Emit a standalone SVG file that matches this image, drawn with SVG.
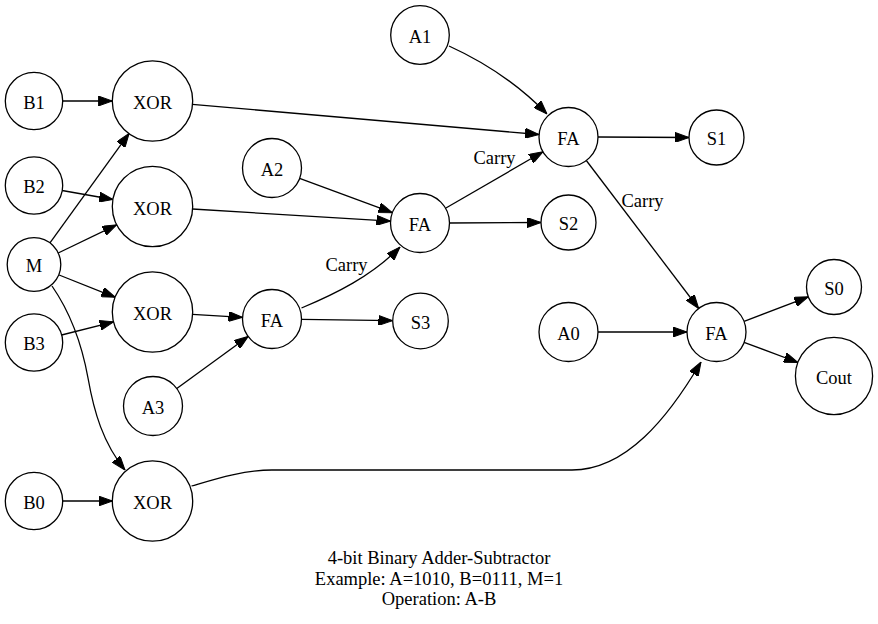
<svg xmlns="http://www.w3.org/2000/svg" width="878" height="624" viewBox="0 0 878 624">
<defs>
<marker id="arr" markerWidth="14" markerHeight="10" refX="14" refY="5" orient="auto" markerUnits="userSpaceOnUse">
<path d="M0,0 L14,5 L0,10 z" fill="#000" stroke="#000" stroke-width="1"/>
</marker>
<style>
.n circle{fill:#fff;stroke:#000;stroke-width:1.3}
.n text,.lbl{font-family:"Liberation Serif","Times New Roman",serif;font-size:18.5px;fill:#000;text-anchor:middle}
#edges path{fill:none;stroke:#000;stroke-width:1.3;marker-end:url(#arr)}
.title{font-family:"Liberation Serif","Times New Roman",serif;font-size:18.5px;fill:#000;text-anchor:middle}
</style>
</defs>
<rect width="878" height="624" fill="#fff"/>
<g id="edges">
<path d="M63,101 L112.3,101"/>
<path d="M49.8,243.1 L129.1,133.4"/>
<path d="M62.1,190.5 L113.1,199.5"/>
<path d="M58.2,253 L116.6,224.8"/>
<path d="M59.1,275 L115.3,297.3"/>
<path d="M61.6,335 L113.7,321.8"/>
<path d="M52,286 C70,312 82,345 88,378 C94,412 103,443 125,470"/>
<path d="M63,501 L112.5,501"/>
<path d="M192.3,104.4 L539.1,134.5"/>
<path d="M449,46 C482,61 517,83 547,114"/>
<path d="M192.4,209 L390.5,221.2"/>
<path d="M299.6,178.3 L392.4,212.7"/>
<path d="M445.5,208.2 L543,151.8"/>
<path d="M449.5,223 L541,222.5"/>
<path d="M192.4,314.3 L242.5,317.3"/>
<path d="M176.8,388.6 L248.2,336.4"/>
<path d="M301.5,308 C335,294 372,276 400,247"/>
<path d="M301.5,319.4 L392.5,320.6"/>
<path d="M598,137 L689,137.5"/>
<path d="M586.3,160.5 L698.7,308.5"/>
<path d="M598,332 L687,332"/>
<path d="M744.1,321.4 L808.3,296.8"/>
<path d="M744.1,342.3 L798,362.5"/>
<path d="M191.5,486 C212,480 242,470 272,470 L572,470 C626,470 668,418 701,362"/>
<text class="lbl" x="494.5" y="164">Carry</text>
<text class="lbl" x="346.5" y="271">Carry</text>
<text class="lbl" x="642.5" y="207">Carry</text>
</g>
<g id="A1" class="n"><circle cx="420" cy="35" r="29.3"/><text x="420" y="42.5">A1</text></g>
<g id="B1" class="n"><circle cx="34" cy="101" r="28.7"/><text x="34" y="108.5">B1</text></g>
<g id="XOR1" class="n"><circle cx="152.5" cy="101" r="40.2"/><text x="152.5" y="109">XOR</text></g>
<g id="FA1" class="n"><circle cx="568.5" cy="137" r="29.5"/><text x="568.5" y="144.5">FA</text></g>
<g id="S1" class="n"><circle cx="716.5" cy="137.5" r="27.5"/><text x="716.5" y="145">S1</text></g>
<g id="A2" class="n"><circle cx="272" cy="168" r="29.5"/><text x="272" y="175.5">A2</text></g>
<g id="B2" class="n"><circle cx="34" cy="185.5" r="28.7"/><text x="34" y="193">B2</text></g>
<g id="XOR2" class="n"><circle cx="152.5" cy="206.5" r="40.2"/><text x="152.5" y="214.5">XOR</text></g>
<g id="FA2" class="n"><circle cx="420" cy="223" r="29.5"/><text x="420" y="230.5">FA</text></g>
<g id="S2" class="n"><circle cx="568.5" cy="222.5" r="27.5"/><text x="568.5" y="230">S2</text></g>
<g id="M" class="n"><circle cx="34" cy="264.5" r="26.8"/><text x="34" y="272">M</text></g>
<g id="XOR3" class="n"><circle cx="152.5" cy="312" r="40.2"/><text x="152.5" y="320">XOR</text></g>
<g id="FA3" class="n"><circle cx="272" cy="319" r="29.5"/><text x="272" y="326.5">FA</text></g>
<g id="S3" class="n"><circle cx="420.5" cy="321" r="27.8"/><text x="420.5" y="328.5">S3</text></g>
<g id="B3" class="n"><circle cx="34" cy="342.5" r="28.7"/><text x="34" y="350">B3</text></g>
<g id="A3" class="n"><circle cx="153" cy="406" r="29.5"/><text x="153" y="413.5">A3</text></g>
<g id="A0" class="n"><circle cx="568.5" cy="332" r="29.5"/><text x="568.5" y="339.5">A0</text></g>
<g id="FA0" class="n"><circle cx="716.5" cy="332" r="29.5"/><text x="716.5" y="339.5">FA</text></g>
<g id="S0" class="n"><circle cx="834" cy="287" r="27.5"/><text x="834" y="294.5">S0</text></g>
<g id="Cout" class="n"><circle cx="834" cy="376" r="38.6"/><text x="834" y="383.5">Cout</text></g>
<g id="B0" class="n"><circle cx="34" cy="501" r="28.7"/><text x="34" y="508.5">B0</text></g>
<g id="XOR0" class="n"><circle cx="152.5" cy="501" r="40.2"/><text x="152.5" y="509">XOR</text></g>
<g id="title">
<text class="title" x="439" y="564">4-bit Binary Adder-Subtractor</text>
<text class="title" x="439" y="584.5">Example: A=1010, B=0111, M=1</text>
<text class="title" x="439" y="605">Operation: A-B</text>
</g>
</svg>
